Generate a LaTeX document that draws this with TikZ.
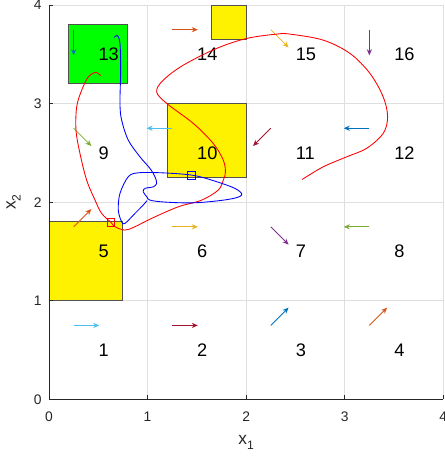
\documentclass[tikz,border=0pt]{standalone}
\usepackage{fontspec}
\setmainfont{Liberation Sans}
\usetikzlibrary{arrows.meta}
\definecolor{mblue}{RGB}{0,114,189}
\definecolor{morange}{RGB}{217,83,25}
\definecolor{myellow}{RGB}{237,177,32}
\definecolor{mpurple}{RGB}{126,47,142}
\definecolor{mgreen}{RGB}{119,172,48}
\definecolor{mcyan}{RGB}{77,190,238}
\definecolor{mred}{RGB}{162,20,47}
\definecolor{gridgray}{RGB}{223,223,223}
\definecolor{axisgray}{RGB}{38,38,38}
\newcommand{\sub}[1]{\raisebox{-0.55ex}{\fontsize{7}{8}\selectfont #1}}

\begin{document}
\begin{tikzpicture}[x=2cm, y=2cm,
  gridline/.style={draw=gridgray, line width=0.4pt},
  axisline/.style={draw=axisgray, line width=0.5pt},
  obstacle/.style={draw=axisgray!80, line width=0.5pt},
  celllabel/.style={anchor=west, inner sep=0pt, font=\fontsize{10.5}{12}\selectfont},
  ticklabel/.style={inner sep=1pt, text=axisgray, font=\fontsize{8}{10}\selectfont},
  axislabel/.style={inner sep=0pt, text=axisgray, font=\fontsize{10}{12}\selectfont},
  flow/.style={-{Stealth[length=3.5pt, width=3pt]}, line width=0.5pt},
  marker/.style={line width=0.5pt, minimum size=4.5pt, inner sep=0pt}
]
\useasboundingbox (-0.497,-0.595) rectangle (4.016,4.051);

% grid and axes
\foreach \t in {1,...,4} {
  \draw[gridline] (\t,0) -- (\t,4);
  \draw[gridline] (0,\t) -- (4,\t);
}
\draw[obstacle, fill=green] (0.2,3.2) rectangle (0.8,3.8);
\draw[obstacle, fill=yellow] (1.65,3.65) rectangle (2,4);
\draw[obstacle, fill=yellow] (1.2,2.25) rectangle (2,3);
\draw[obstacle, fill=yellow] (0,1) rectangle (0.75,1.8);
\draw[axisline] (0,4) -- (0,0) -- (4,0);
\foreach \t in {0,...,4} {
  \draw[axisline] (\t,0) -- (\t,0.04);
  \draw[axisline] (0,\t) -- (0.04,\t);
  \node[ticklabel] (xt\t) at (\t,-0.18) {\t};
  \node[ticklabel, anchor=east] (yt\t) at (-0.055,\t) {\t};
}
\node[axislabel] (xlab) at (2,-0.44) {x\sub{1}};
\node[axislabel, rotate=90] (ylab) at (-0.36,2.0) {x\sub{2}};

% cells: label and flow arrow
\foreach \k/\dx/\dy/\col in {1/0.26/0/mcyan, 2/0.26/0/mred, 3/0.18/0.18/mblue,
    4/0.18/0.18/morange, 5/0.18/0.18/morange, 6/0.26/0/myellow,
    7/0.18/-0.18/mpurple, 8/-0.26/0/mgreen, 9/0.18/-0.18/mgreen,
    10/-0.26/0/mcyan, 11/-0.18/-0.18/mred, 12/-0.26/0/mblue,
    13/0/-0.26/mblue, 14/0.26/0/morange, 15/0.18/-0.18/myellow,
    16/0/-0.26/mpurple} {
  \pgfmathtruncatemacro\cx{mod(\k-1,4)}
  \pgfmathtruncatemacro\cy{(\k-1)/4}
  \node[celllabel] (cell\k) at (\cx+0.5,\cy+0.5) {\k};
  \draw[flow, \col] (\cx+0.25,\cy+0.75) -- ++(\dx,\dy);
}

% trajectories
\draw[red, line width=0.5pt] plot[smooth, tension=0.55] coordinates {
  (2.569,2.231) (2.782,2.359) (3.019,2.460) (3.222,2.546) (3.390,2.698)
  (3.435,2.866) (3.390,3.069) (3.256,3.306) (3.053,3.509) (2.782,3.644)
  (2.444,3.705) (2.309,3.705) (2.005,3.661) (1.701,3.560) (1.362,3.390)
  (1.159,3.238) (1.092,3.120) (1.194,3.002) (1.464,2.799) (1.666,2.596)
  (1.768,2.427) (1.790,2.305) (1.768,2.224) (1.717,2.123) (1.549,2.021)
  (1.311,1.953) (1.042,1.836) (0.872,1.751) (0.771,1.717) (0.669,1.751)
  (0.629,1.795) (0.534,1.886) (0.467,2.021) (0.382,2.224) (0.314,2.495)
  (0.274,2.731) (0.281,2.968) (0.332,3.137) (0.399,3.272) (0.467,3.316)
  (0.500,3.306) (0.524,3.282)};
\draw[blue, line width=0.5pt] plot[smooth, tension=0.55] coordinates {
  (0.662,3.671) (0.693,3.692) (0.720,3.611) (0.727,3.340) (0.720,3.002)
  (0.737,2.833) (0.804,2.630) (0.923,2.460) (1.024,2.343) (1.075,2.258)
  (1.092,2.191) (1.058,2.156) (0.974,2.140) (0.956,2.106) (0.994,2.052)
  (1.024,2.021) (1.176,2.001) (1.481,1.994) (1.818,2.028) (1.954,2.072)
  (1.886,2.140) (1.650,2.224) (1.447,2.275) (1.143,2.298) (0.906,2.298)
  (0.804,2.258) (0.720,2.089) (0.703,1.920) (0.737,1.801) (0.771,1.785)
  (0.872,1.886) (0.956,1.971) (0.994,2.016)};
\node[marker, draw=red] (redpos) at (0.629,1.795) {};
\node[marker, draw=blue] (bluepos) at (1.447,2.275) {};
\end{tikzpicture}
\end{document}
